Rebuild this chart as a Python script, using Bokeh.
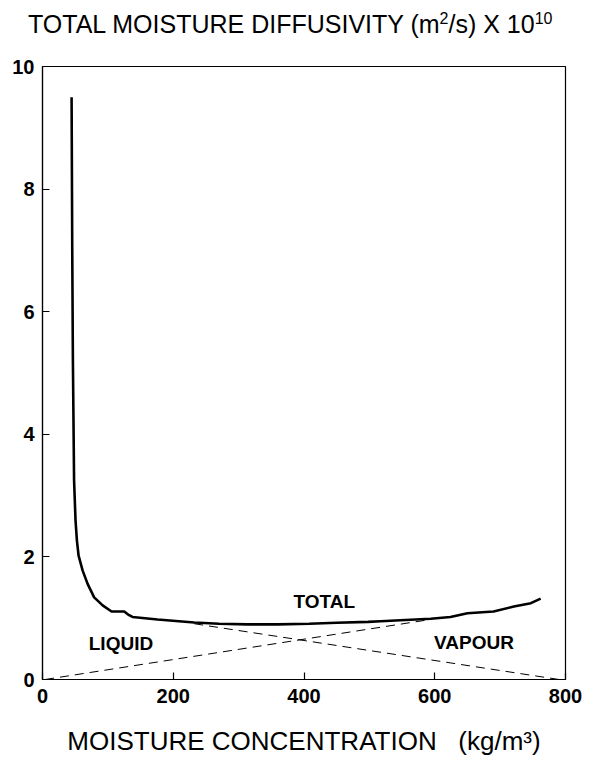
from bokeh.plotting import figure
from bokeh.models import Label, FixedTicker, Range1d, Div
from bokeh.layouts import column
from bokeh.embed import file_html
from bokeh.resources import INLINE

# Moisture concentration (kg/m3) vs total moisture diffusivity (m2/s x 1e10)
total_x = [44.5, 45.5, 46.5, 48.3, 50.5, 52.6, 55.2, 61.3, 69, 79, 92, 105.6, 115, 125,
           131, 137.7, 176, 232, 270, 313, 360, 408, 450, 498, 517, 555, 594, 624, 650,
           690, 721, 747, 762]
total_y = [9.5, 7.0, 5.2, 3.25, 2.6, 2.27, 2.02, 1.78, 1.56, 1.34, 1.21, 1.11, 1.11, 1.11,
           1.06, 1.02, 0.98, 0.93, 0.91, 0.90, 0.90, 0.91, 0.925, 0.94, 0.95, 0.97, 0.99,
           1.02, 1.08, 1.11, 1.19, 1.245, 1.32]

# Liquid and vapour components (dashed)
liquid_x = [232, 790]
liquid_y = [0.91, 0.0]
vapour_x = [4, 588]
vapour_y = [0.0, 0.97]

x_ticks = [0, 200, 400, 600, 800]
y_ticks = [0, 2, 4, 6, 8, 10]

FONT = "Liberation Sans"

title = Div(
    text=('<div style="font-family:\'Liberation Sans\'; font-size:25px; color:black; '
          'line-height:1; padding:11px 0 0 28px; white-space:nowrap;">'
          'TOTAL MOISTURE DIFFUSIVITY (m<sup style="font-size:16px">2</sup>/s) '
          'X 10<sup style="font-size:16px">10</sup></div>'),
    width=590, height=46, margin=0)

p = figure(width=590, height=716, output_backend="svg", toolbar_location=None,
           x_range=Range1d(0, 800), y_range=Range1d(0, 10),
           min_border_left=42, min_border_right=25, min_border_top=20,
           min_border_bottom=83, margin=0)
p.grid.visible = False
p.outline_line_color = "black"
p.outline_line_width = 1.2

for ax in (p.xaxis, p.yaxis):
    ax.major_tick_in = 7
    ax.major_tick_out = 0
    ax.minor_tick_in = 0
    ax.minor_tick_out = 0
    ax.axis_line_color = "black"
    ax.axis_line_width = 1.2
    ax.major_tick_line_width = 1.2
    ax.major_label_text_font = FONT
    ax.major_label_text_font_style = "bold"
    ax.major_label_text_font_size = "20px"
    ax.major_label_text_color = "black"

p.xaxis.ticker = FixedTicker(ticks=x_ticks)
p.yaxis.ticker = FixedTicker(ticks=y_ticks)
p.xaxis.major_label_standoff = 9
p.yaxis.major_label_standoff = 8

p.xaxis.axis_label = "MOISTURE CONCENTRATION\u00a0\u00a0\u00a0(kg/m³)"
p.xaxis.axis_label_text_font = FONT
p.xaxis.axis_label_text_font_size = "26px"
p.xaxis.axis_label_text_font_style = "normal"
p.xaxis.axis_label_text_color = "black"
p.xaxis.axis_label_standoff = 20

p.line(total_x, total_y, line_color="black", line_width=2.6)
p.line(liquid_x, liquid_y, line_color="black", line_width=1, line_dash="9 6")
p.line(vapour_x, vapour_y, line_color="black", line_width=1, line_dash="9 6")

def note(x, y, text, size="19px", style="bold"):
    p.add_layout(Label(x=x, y=y, text=text, text_font=FONT, text_font_size=size,
                       text_font_style=style, text_align="center",
                       text_baseline="middle", text_color="black"))

note(431, 1.27, "TOTAL")
note(120, 0.59, "LIQUID")
note(660, 0.61, "VAPOUR")

layout = column(title, p, spacing=0)
open("out.html", "w").write(file_html(layout, INLINE))
